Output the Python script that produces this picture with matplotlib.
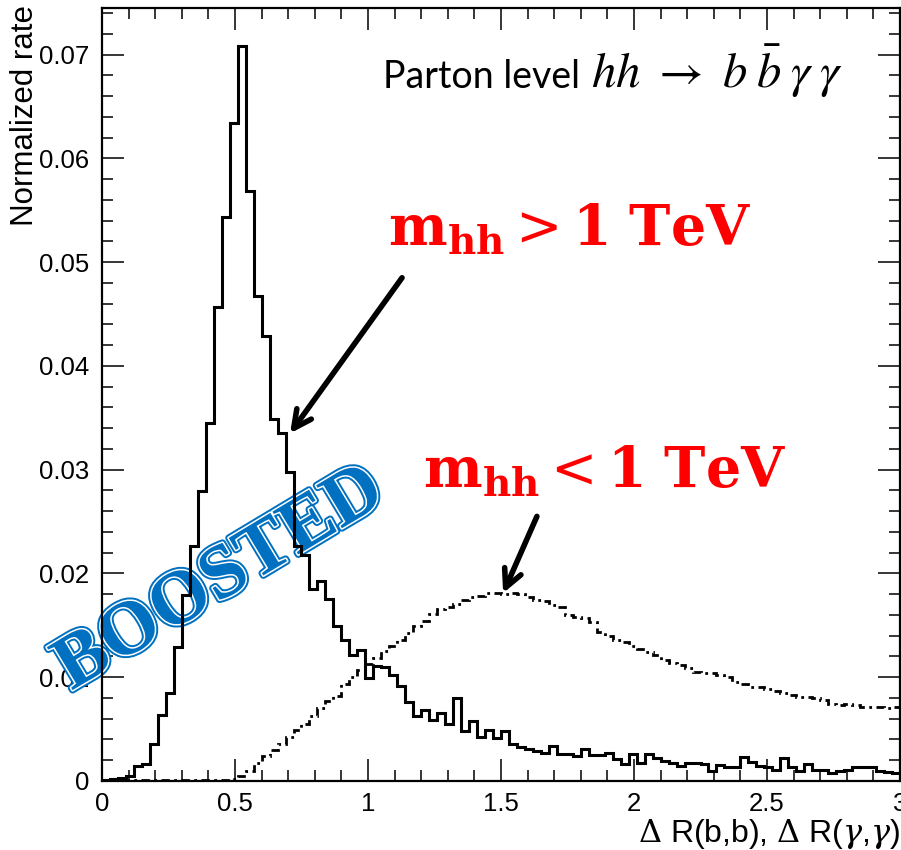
import matplotlib
matplotlib.use("Agg")
import matplotlib.pyplot as plt
import matplotlib.patheffects as pe
from matplotlib.ticker import MultipleLocator, FuncFormatter
import numpy as np

# ---------------------------------------------------------------------------
# Data: 100 bins of width 0.03 on [0, 3]
# ---------------------------------------------------------------------------
X_MIN, X_MAX, N_BINS = 0.0, 3.0, 100

# m_hh > 1 TeV (solid)
boosted = [
    0.0001, 0.0002, 0.0003, 0.0005, 0.0014, 0.0016, 0.0036, 0.0064, 0.0085, 0.0129,
    0.0179, 0.0226, 0.0279, 0.0345, 0.0457, 0.0544, 0.0634, 0.0708, 0.0569, 0.0467,
    0.0429, 0.0349, 0.0335, 0.0298, 0.0226, 0.0218, 0.0185, 0.0193, 0.0175, 0.0149,
    0.0136, 0.0121, 0.0126, 0.0099, 0.0111, 0.0110, 0.0102, 0.0092, 0.0076, 0.0063,
    0.0068, 0.0059, 0.0066, 0.0055, 0.0080, 0.0048, 0.0058, 0.0042, 0.0049, 0.0041,
    0.0048, 0.0036, 0.0033, 0.0031, 0.0029, 0.0027, 0.0034, 0.0026, 0.0026, 0.0024,
    0.0031, 0.0025, 0.0025, 0.0027, 0.0021, 0.0016, 0.0026, 0.0017, 0.0026, 0.0022,
    0.0019, 0.0017, 0.0014, 0.0017, 0.0017, 0.0016, 0.0010, 0.0015, 0.0013, 0.0013,
    0.0023, 0.0018, 0.0014, 0.0013, 0.0011, 0.0022, 0.0013, 0.0010, 0.0016, 0.0011,
    0.0011, 0.0008, 0.0010, 0.0011, 0.0013, 0.0013, 0.0013, 0.0010, 0.0009, 0.0008,
]

# m_hh < 1 TeV (dash-dot)
resolved = [
    0.0000, 0.0000, 0.0000, 0.0001, 0.0001, 0.0001, 0.0001, 0.0001, 0.0001, 0.0001,
    0.0001, 0.0001, 0.0001, 0.0001, 0.0001, 0.0001, 0.0002, 0.00045, 0.00096, 0.0017,
    0.0024, 0.0030, 0.0036, 0.0042, 0.0049, 0.0055, 0.0063, 0.0070, 0.0077, 0.0082,
    0.0093, 0.0100, 0.0107, 0.0113, 0.0119, 0.0125, 0.0130, 0.0136, 0.0143, 0.0149,
    0.0154, 0.0161, 0.0166, 0.0168, 0.0171, 0.0174, 0.0177, 0.0178, 0.0181, 0.0181,
    0.0180, 0.0181, 0.0180, 0.0177, 0.0174, 0.0173, 0.0170, 0.0168, 0.0160, 0.0158,
    0.0157, 0.0153, 0.0144, 0.0140, 0.0136, 0.0134, 0.0130, 0.0127, 0.0124, 0.0121,
    0.0117, 0.0114, 0.0112, 0.0109, 0.0105, 0.0104, 0.0104, 0.0102, 0.0100, 0.0095,
    0.0093, 0.0091, 0.0091, 0.0089, 0.0087, 0.0085, 0.0083, 0.0081, 0.0081, 0.0080,
    0.0078, 0.0074, 0.0073, 0.0074, 0.0073, 0.0071, 0.0071, 0.0071, 0.0070, 0.0071,
]

edges = np.linspace(X_MIN, X_MAX, N_BINS + 1)

plt.rcParams["mathtext.fontset"] = "dejavuserif"

fig = plt.figure(figsize=(9.01, 8.5), dpi=100)
ax = fig.add_axes([0.1132, 0.0812, 0.8857, 0.9094])

ax.stairs(boosted, edges, color="black", lw=2.2, zorder=3, baseline=None)
ax.stairs(resolved, edges, color="black", lw=2.0, zorder=3, baseline=None,
          linestyle=(0, (3, 1.6, 1, 1.6)))

ax.set_xlim(X_MIN, X_MAX)
ax.set_ylim(0, 0.0745)

# ROOT-like frame: ticks inside on all four sides
for sp in ax.spines.values():
    sp.set_linewidth(1.6)
ax.xaxis.set_major_locator(MultipleLocator(0.5))
ax.xaxis.set_minor_locator(MultipleLocator(0.1))
ax.yaxis.set_major_locator(MultipleLocator(0.01))
ax.yaxis.set_minor_locator(MultipleLocator(0.002))
fmt = FuncFormatter(lambda v, p: f"{v:.2f}".rstrip("0").rstrip(".") if v else "0")
ax.xaxis.set_major_formatter(FuncFormatter(lambda v, p: f"{v:g}"))
ax.yaxis.set_major_formatter(fmt)
ax.tick_params(which="both", direction="in", top=True, right=True, width=1.1)
ax.tick_params(which="major", length=16)
ax.tick_params(which="minor", length=8)
ax.tick_params(axis="x", which="major", pad=8)
ax.tick_params(axis="y", which="major", pad=9)
for lab in ax.get_xticklabels() + ax.get_yticklabels():
    lab.set_fontfamily("Liberation Sans")
    lab.set_fontsize(18.5)

ax.set_ylabel("Normalized rate", fontfamily="Liberation Sans", fontsize=22.5)
ax.yaxis.set_label_coords(-0.078, 1.004)
ax.yaxis.label.set_ha("right")
ax.set_xlabel(r"$\Delta$ R(b,b), $\Delta$ R($\gamma$,$\gamma$)",
              fontfamily="Liberation Sans", fontsize=23)
ax.xaxis.set_label_coords(1.0, -0.046)
ax.xaxis.label.set_ha("right")

# annotations
ax.text(1.056, 0.0668, "Parton level", fontfamily="Lato", fontsize=27,
        ha="left", va="baseline")
ax.text(1.84, 0.0668, r"$hh\ \rightarrow\ b\;\bar{b}\;\gamma\;\gamma$",
        fontsize=35, ha="left", va="baseline", math_fontfamily="stix")
ax.text(1.075, 0.0517, r"$\mathbf{m_{hh}} > \mathbf{1\ TeV}$",
        color="red", fontsize=40, ha="left", va="baseline")
ax.text(1.207, 0.0283, r"$\mathbf{m_{hh}} < \mathbf{1\ TeV}$",
        color="red", fontsize=40, ha="left", va="baseline")

arrow = dict(arrowstyle="->", lw=4, color="black", mutation_scale=32,
             shrinkA=0, shrinkB=0)
ax.annotate("", xy=(0.707, 0.0335), xytext=(1.128, 0.0485), arrowprops=arrow)
ax.annotate("", xy=(1.508, 0.0181), xytext=(1.635, 0.0255), arrowprops=arrow)

blue = "#0070C0"
ax.text(0.445, 0.0194, "BOOSTED", color=blue, fontfamily="Liberation Serif",
        fontweight="bold", fontsize=55, rotation=31, ha="center", va="center",
        rotation_mode="anchor", zorder=2, clip_on=False,
        path_effects=[pe.Stroke(linewidth=5, foreground=blue),
                      pe.Stroke(linewidth=2.2, foreground="white"),
                      pe.Normal()])

fig.savefig("out.png", dpi=100)
